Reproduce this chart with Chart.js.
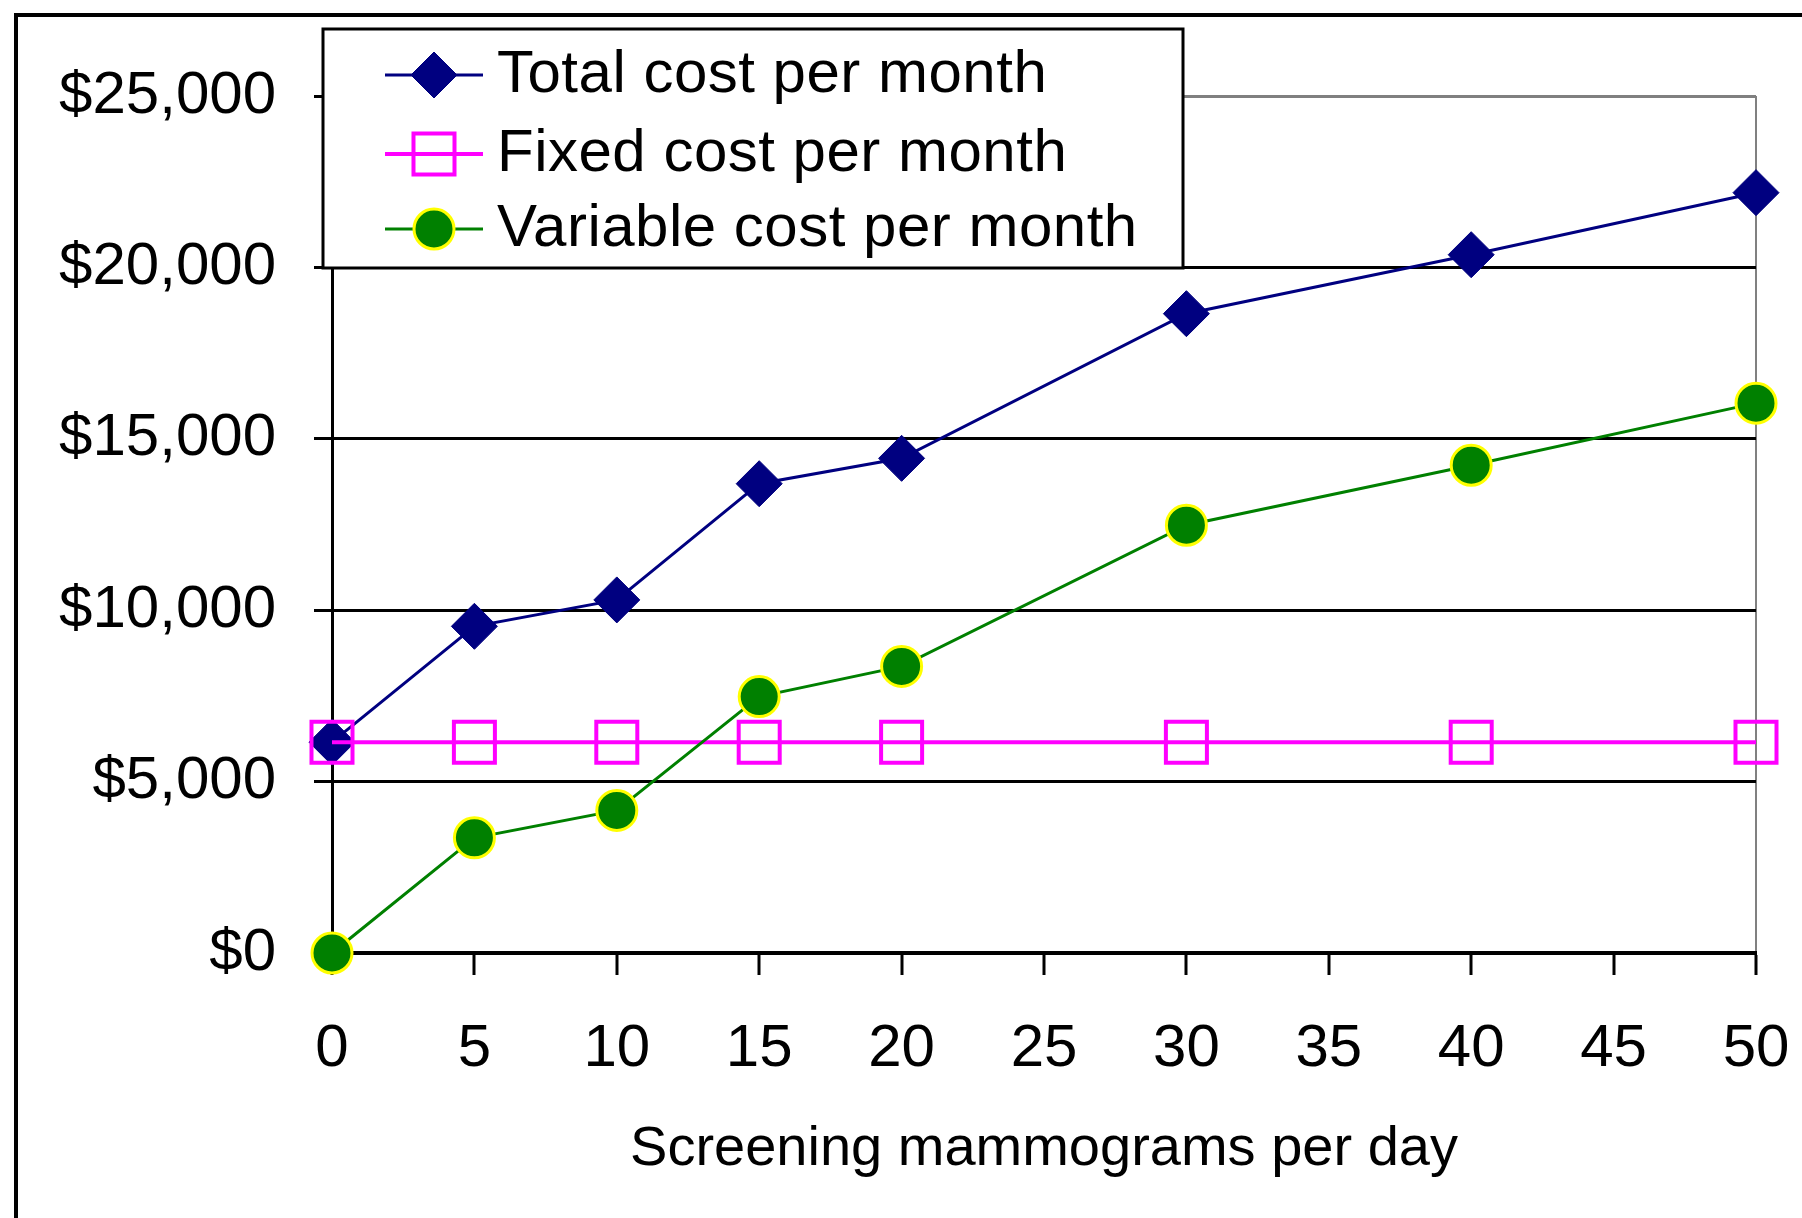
<!DOCTYPE html>
<html>
<head>
<meta charset="utf-8">
<title>Mammography cost per month</title>
<script src="https://cdn.jsdelivr.net/npm/chart.js@4.4.0/dist/chart.umd.min.js"></script>
<style>
  html, body { margin: 0; padding: 0; background: #fff; }
  canvas { display: block; }
</style>
</head>
<body>
<canvas id="costChart" width="1802" height="1218"></canvas>
<script>
// values
const mammogramsPerDay = [0, 5, 10, 15, 20, 30, 40, 50];
const totalCost = [6150, 9530, 10300, 13690, 14430, 18650, 20370, 22180];
const fixedCost = [6150, 6150, 6150, 6150, 6150, 6150, 6150, 6150];
const variableCost = [0, 3360, 4160, 7480, 8360, 12480, 14230, 16040];
const seriesLabels = ['Total cost per month', 'Fixed cost per month', 'Variable cost per month'];
const xAxisTitle = 'Screening mammograms per day';

const FONT = "'Liberation Sans', Arial, Helvetica, sans-serif";

const toPoints = ys => mammogramsPerDay.map((x, i) => ({ x: x, y: ys[i] }));

// outer frame (top + left edge only, the rest runs off the picture)
const framePlugin = {
  id: 'frame',
  beforeDraw(chart) {
    const ctx = chart.ctx;
    ctx.save();
    ctx.fillStyle = '#ffffff';
    ctx.fillRect(0, 0, chart.width, chart.height);
    ctx.strokeStyle = '#000';
    ctx.lineWidth = 4;
    ctx.beginPath();
    ctx.moveTo(16, chart.height + 10);
    ctx.lineTo(16, 15);
    ctx.lineTo(chart.width + 10, 15);
    ctx.stroke();
    ctx.restore();
  }
};

// boxed legend that sits over the top-left of the plot
const boxLegendPlugin = {
  id: 'boxLegend',
  afterDraw(chart) {
    const ctx = chart.ctx;
    const box = { left: 323, top: 29, right: 1183, bottom: 268 };
    const rows = [75, 154, 229];
    ctx.save();
    ctx.fillStyle = '#ffffff';
    ctx.fillRect(box.left, box.top, box.right - box.left, box.bottom - box.top);
    ctx.strokeStyle = '#000';
    ctx.lineWidth = 3;
    ctx.strokeRect(box.left, box.top, box.right - box.left, box.bottom - box.top);

    chart.data.datasets.forEach((ds, i) => {
      const y = rows[i];
      ctx.strokeStyle = ds.borderColor;
      ctx.lineWidth = ds.borderWidth;
      ctx.beginPath();
      ctx.moveTo(385, y);
      ctx.lineTo(483, y);
      ctx.stroke();

      ctx.fillStyle = ds.pointBackgroundColor;
      ctx.strokeStyle = ds.pointBorderColor;
      ctx.lineWidth = ds.pointBorderWidth;
      Chart.helpers.drawPoint(ctx, {
        pointStyle: ds.pointStyle,
        radius: ds.pointRadius,
        borderWidth: ds.pointBorderWidth,
        rotation: 0
      }, 434, y);

      ctx.fillStyle = '#000';
      ctx.font = '60px ' + FONT;
      ctx.letterSpacing = '0.5px';
      ctx.textAlign = 'left';
      ctx.textBaseline = 'middle';
      ctx.fillText(ds.label, 497, y);
    });
    ctx.restore();
  }
};

new Chart(document.getElementById('costChart'), {
  type: 'line',
  data: {
    datasets: [
      {
        label: seriesLabels[0],
        data: toPoints(totalCost),
        borderColor: '#000080',
        borderWidth: 3,
        pointStyle: 'rectRot',
        pointRadius: 23,
        pointBackgroundColor: '#000080',
        pointBorderColor: '#000080',
        pointBorderWidth: 1,
        tension: 0,
        clip: false,
        order: 3
      },
      {
        label: seriesLabels[1],
        data: toPoints(fixedCost),
        borderColor: '#ff00ff',
        borderWidth: 4,
        pointStyle: 'rect',
        pointRadius: 29,
        pointBackgroundColor: 'rgba(0,0,0,0)',
        pointBorderColor: '#ff00ff',
        pointBorderWidth: 4,
        tension: 0,
        clip: false,
        order: 2
      },
      {
        label: seriesLabels[2],
        data: toPoints(variableCost),
        borderColor: '#008000',
        borderWidth: 3,
        pointStyle: 'circle',
        pointRadius: 20,
        pointBackgroundColor: '#008000',
        pointBorderColor: '#ffff00',
        pointBorderWidth: 3,
        tension: 0,
        clip: false,
        order: 1
      }
    ]
  },
  options: {
    responsive: false,
    animation: false,
    layout: {
      padding: { left: 0, top: 96, right: 46, bottom: 0 }
    },
    plugins: {
      legend: { display: false },
      tooltip: { enabled: false },
      title: { display: false }
    },
    scales: {
      x: {
        type: 'linear',
        min: 0,
        max: 50,
        ticks: {
          stepSize: 5,
          color: '#000',
          padding: 38,
          font: { family: FONT, size: 60 },
          maxRotation: 0,
          autoSkip: false
        },
        grid: {
          drawOnChartArea: true,
          color: ctx => (ctx.tick && ctx.tick.value === 50 ? '#808080' : 'rgba(0,0,0,0)'),
          lineWidth: 2,
          drawTicks: true,
          tickLength: 22,
          tickColor: '#000',
          tickWidth: 3
        },
        border: { display: true, color: '#000', width: 4 },
        title: {
          display: true,
          text: xAxisTitle,
          color: '#000',
          font: { family: FONT, size: 56 },
          padding: { top: 0, bottom: 35 }
        },
        afterFit: scale => {
          scale.height = 265;
          scale.paddingLeft = 0;
          scale.paddingRight = 0;
        }
      },
      y: {
        min: 0,
        max: 25000,
        ticks: {
          stepSize: 5000,
          color: '#000',
          padding: 38,
          font: { family: FONT, size: 60 },
          callback: v => '$' + v.toLocaleString('en-US')
        },
        grid: {
          color: ctx => (ctx.tick && ctx.tick.value === 25000 ? '#808080' : '#000'),
          lineWidth: 3,
          drawTicks: true,
          tickLength: 18,
          tickColor: '#000',
          tickWidth: 3
        },
        border: { display: true, color: '#000', width: 3 },
        afterFit: scale => {
          scale.width = 332;
          scale.paddingTop = 0;
          scale.paddingBottom = 0;
        }
      }
    }
  },
  plugins: [framePlugin, boxLegendPlugin]
});
</script>
</body>
</html>
